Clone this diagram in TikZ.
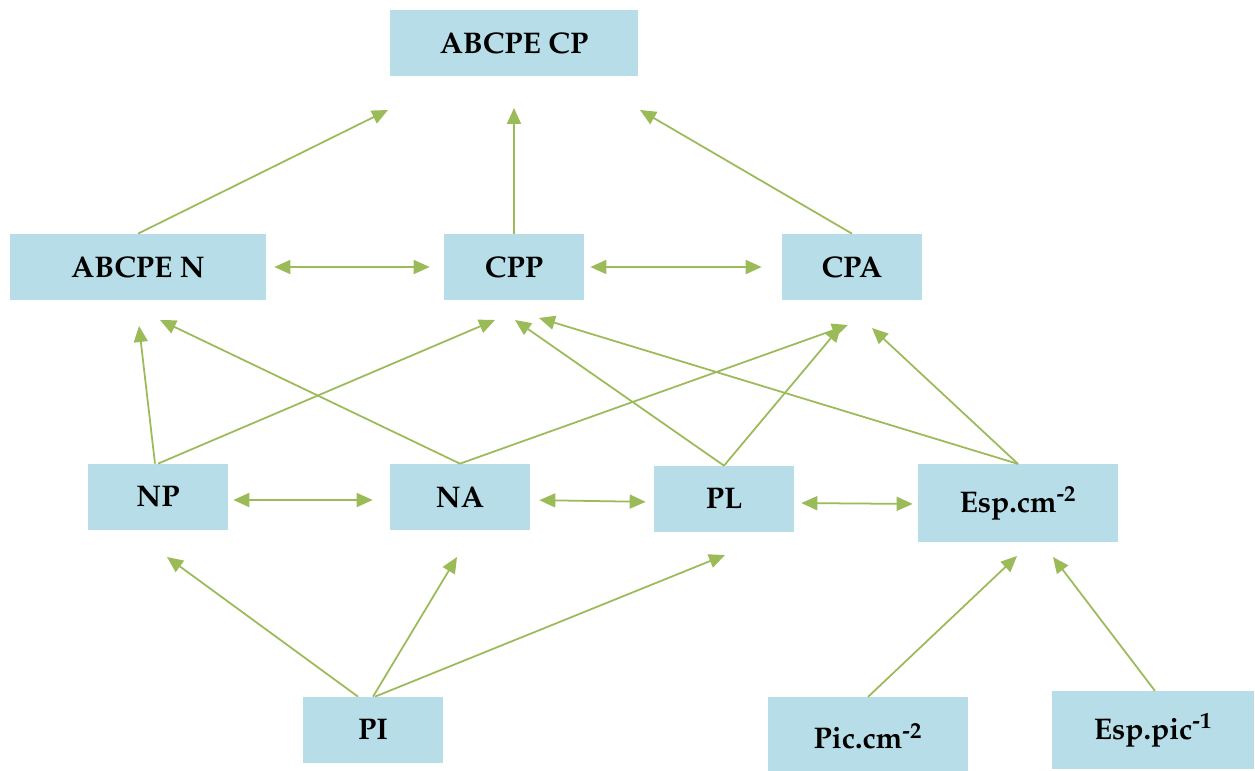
\documentclass[tikz,border=0pt]{standalone}
\usepackage[T1]{fontenc}
\usepackage{mathpazo}
\usepackage{xcolor}
\usepackage{tikz}
\usetikzlibrary{arrows.meta}

\definecolor{boxblue}{HTML}{B7DEE8}
\definecolor{arrowgreen}{HTML}{9BBB59}

\begin{document}
\begin{tikzpicture}[
  x=0.02cm, y=-0.02cm,
  box/.style={rectangle, fill=boxblue, inner sep=0pt,
    minimum width=2.8cm, minimum height=1.32cm,
    font=\fontsize{17}{20}\selectfont\bfseries},
  widebox/.style={box, minimum width=4cm, minimum height=1.55cm},
  arrow/.style={-{Triangle[length=3.2mm, width=2.8mm]}, line width=1pt, arrowgreen},
  twoway/.style={{Triangle[length=3.2mm, width=2.8mm]}-{Triangle[length=3.2mm, width=2.8mm]},
    line width=1pt, arrowgreen}
]
  \useasboundingbox (0,0) rectangle (1255,771);

  % boxes
  \node[box, minimum width=4.96cm] (cp) at (514,43) {ABCPE CP};
  \node[box, minimum width=5.12cm] (abn) at (138,267) {ABCPE N};
  \node[box] (cpp) at (514,267) {CPP};
  \node[box] (cpa) at (852,267) {CPA};
  \node[box] (np) at (158,497) {NP};
  \node[box] (na) at (460,497) {NA};
  \node[box] (pl) at (724,499) {PL};
  \node[widebox] (espcm) at (1018,503) {Esp.cm\textsuperscript{-2}};
  \node[box] (pi) at (373,730) {PI};
  \node[widebox] (piccm) at (868,736) {Pic.cm\textsuperscript{-2}};
  \node[widebox, minimum width=4.06cm] (esppic) at (1153,730) {Esp.pic\textsuperscript{-1}};

  % arrow tips left free
  \coordinate (cp-l) at (388,110);
  \coordinate (cp-m) at (514,108);
  \coordinate (cp-r) at (640,110);
  \coordinate (abn-a) at (139,326);
  \coordinate (abn-b) at (160,320);
  \coordinate (cpp-a) at (495,320);
  \coordinate (cpp-b) at (515,320);
  \coordinate (cpp-c) at (539,318);
  \coordinate (cpa-a) at (848,325);
  \coordinate (cpa-b) at (841,326);
  \coordinate (cpa-c) at (872,328);
  \coordinate (np-a) at (167,557);
  \coordinate (na-a) at (457,557);
  \coordinate (pl-a) at (725,555);
  \coordinate (esp-a) at (1017,556);
  \coordinate (esp-b) at (1053,557);

  \draw[arrow] (abn.north) -- (cp-l);
  \draw[arrow] (cpp.north) -- (cp-m);
  \draw[arrow] (cpa.north) -- (cp-r);

  \draw[twoway, shorten <=0.16cm, shorten >=0.28cm] (abn.east) -- (cpp.west);
  \draw[twoway, shorten <=0.12cm, shorten >=0.4cm] (cpp.east) -- (cpa.west);

  \draw[arrow] ([xshift=-0.06cm]np.north) -- (abn-a);
  \draw[arrow] (np.north) -- (cpp-a);
  \draw[arrow] (na.north) -- (abn-b);
  \draw[arrow] (na.north) -- (cpa-a);
  \draw[arrow] (pl.north) -- (cpp-b);
  \draw[arrow] (pl.north) -- (cpa-b);
  \draw[arrow] (espcm.north) -- (cpp-c);
  \draw[arrow] (espcm.north) -- (cpa-c);

  \draw[twoway, shorten <=0.1cm, shorten >=0.34cm] ([yshift=-0.06cm]np.east) -- ([yshift=-0.06cm]na.west);
  \draw[twoway, shorten <=0.18cm, shorten >=0.16cm] ([yshift=-0.06cm]na.east) -- ([yshift=-0.06cm]pl.west);
  \draw[twoway, shorten <=0.14cm, shorten >=0.1cm] ([yshift=-0.08cm]pl.east) -- ([yshift=-0.02cm]espcm.west);

  \draw[arrow] ([xshift=-0.3cm]pi.north) -- (np-a);
  \draw[arrow] (pi.north) -- (na-a);
  \draw[arrow] ([xshift=0.04cm]pi.north) -- (pl-a);
  \draw[arrow] (piccm.north) -- (esp-a);
  \draw[arrow] ([xshift=0.04cm]esppic.north) -- (esp-b);
\end{tikzpicture}
\end{document}
